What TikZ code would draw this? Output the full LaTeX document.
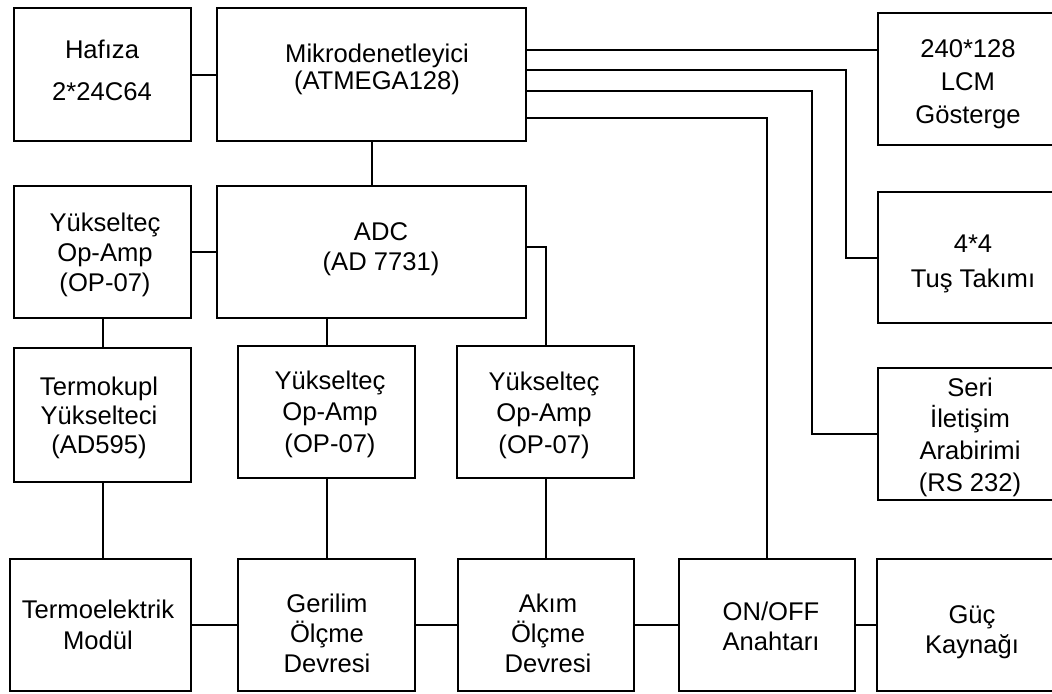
\documentclass[tikz,border=0pt]{standalone}
\usepackage{fontspec}
\setmainfont{Liberation Sans}
\usetikzlibrary{calc}

% block outline given by its corners (in px units of the picture grid)
\newcommand\blockbox[5]{%
  \node[blk, minimum width={(#4-#2)*0.5pt}, minimum height={(#5-#3)*0.5pt}]
    (#1) at ({(#2+#4)/2},{(#3+#5)/2}) {};}

\begin{document}
\begin{tikzpicture}[x=0.5pt,y=-0.5pt,
  blk/.style={draw=black, line width=1pt, rectangle, inner sep=0pt, outer sep=0pt},
  lbl/.style={align=center, inner sep=0pt, text=black},
  wire/.style={draw=black, line width=1pt}]
\useasboundingbox (0,0) rectangle (1052,693);
\clip (0,0) rectangle (1052,693);
\fill[white] (0,0) rectangle (1052,693);

% blocks
\blockbox{hafiza}{14}{8}{191}{141}
\blockbox{mikro}{217}{8}{526}{141}
\blockbox{lcm}{878}{13}{1062}{145}
\blockbox{tus}{878}{192}{1062}{323}
\blockbox{yukA}{14}{186}{191}{318}
\blockbox{adc}{217}{186}{526}{318}
\blockbox{seri}{878}{368}{1062}{500}
\blockbox{termokupl}{14}{348}{191}{482}
\blockbox{yukB}{238}{346}{415}{478}
\blockbox{yukC}{457}{346}{634}{478}
\blockbox{termo}{10}{559}{191}{691}
\blockbox{gerilim}{238}{559}{415}{691}
\blockbox{akim}{458}{559}{634}{691}
\blockbox{onoff}{679}{559}{855}{691}
\blockbox{guc}{877}{559}{1062}{691}

% block texts
\node[lbl, font=\fontsize{12.8}{21}\selectfont] (hafizaT) at (102,70) {Hafıza\\2*24C64};
\node[lbl, font=\fontsize{12.8}{13.5}\selectfont] (mikroT) at (377,69) {Mikrodenetleyici\\(ATMEGA128)};
\node[lbl, font=\fontsize{12.8}{16.5}\selectfont] (lcmT) at (968,84) {240*128\\LCM\\Gösterge};
\node[lbl, font=\fontsize{12.8}{17.5}\selectfont] (tusT) at (973,264) {4*4\\Tuş Takımı};
\node[lbl, font=\fontsize{12.8}{15}\selectfont] (yukAT) at (105,255) {Yükselteç\\Op-Amp\\(OP-07)};
\node[lbl, font=\fontsize{12.8}{15}\selectfont] (adcT) at (381,249) {ADC\\(AD 7731)};
\node[lbl, font=\fontsize{12.8}{14.5}\selectfont] (termokuplT) at (99,418) {Termokupl\\Yükselteci\\(AD595)};
\node[lbl, font=\fontsize{12.8}{15.75}\selectfont] (yukBT) at (330,414) {Yükselteç\\Op-Amp\\(OP-07)};
\node[lbl, font=\fontsize{12.8}{15.75}\selectfont] (yukCT) at (544,415) {Yükselteç\\Op-Amp\\(OP-07)};
\node[lbl, font=\fontsize{12.8}{15.8}\selectfont] (seriT) at (970,437) {Seri\\İletişim\\Arabirimi\\(RS 232)};
\node[lbl, font=\fontsize{12.8}{15.5}\selectfont] (termoT) at (98,625) {Termoelektrik\\Modül};
\node[lbl, font=\fontsize{12.8}{15}\selectfont] (gerilimT) at (327,633) {Gerilim\\Ölçme\\Devresi};
\node[lbl, font=\fontsize{12.8}{15}\selectfont] (akimT) at (548,633) {Akım\\Ölçme\\Devresi};
\node[lbl, font=\fontsize{12.8}{15}\selectfont] (onoffT) at (771,626) {ON/OFF\\Anahtarı};
\node[lbl, font=\fontsize{12.8}{15}\selectfont] (gucT) at (972,632) {Güç\\Kaynağı};

% connections around the microcontroller
\draw[wire] (hafiza) -- (mikro);
\draw[wire] (mikro) -- (adc);
\draw[wire] ([yshift=12.25pt]mikro.east) -- ([yshift=12.25pt]mikro.east -| lcm.west);
\draw[wire] ([yshift=2.25pt]mikro.east) -| ($(tus.west)+(-32,0)$) -- (tus.west);
\draw[wire] ([yshift=-8.25pt]mikro.east) -| ($(seri.west)+(-66,0)$) -- (seri.west);
\draw[wire] ([yshift=-21.75pt]mikro.east) -| (onoff.north);

% analog front end
\draw[wire] (yukA) -- (adc);
\draw[wire] (yukA) -- (termokupl);
\draw[wire] (yukB.north) -- (yukB.north |- adc.south);
\draw[wire] ([yshift=2.5pt]adc.east) -| (yukC.north);
\draw[wire] (termokupl.south -| 103,0) -- (termo.north -| 103,0);
\draw[wire] (yukB) -- (gerilim);
\draw[wire] (yukC.south) -- (yukC.south |- akim.north);

% power / measurement chain
\draw[wire] (termo) -- (gerilim);
\draw[wire] (gerilim) -- (akim);
\draw[wire] (akim) -- (onoff);
\draw[wire] (onoff) -- (guc);
\end{tikzpicture}
\end{document}
